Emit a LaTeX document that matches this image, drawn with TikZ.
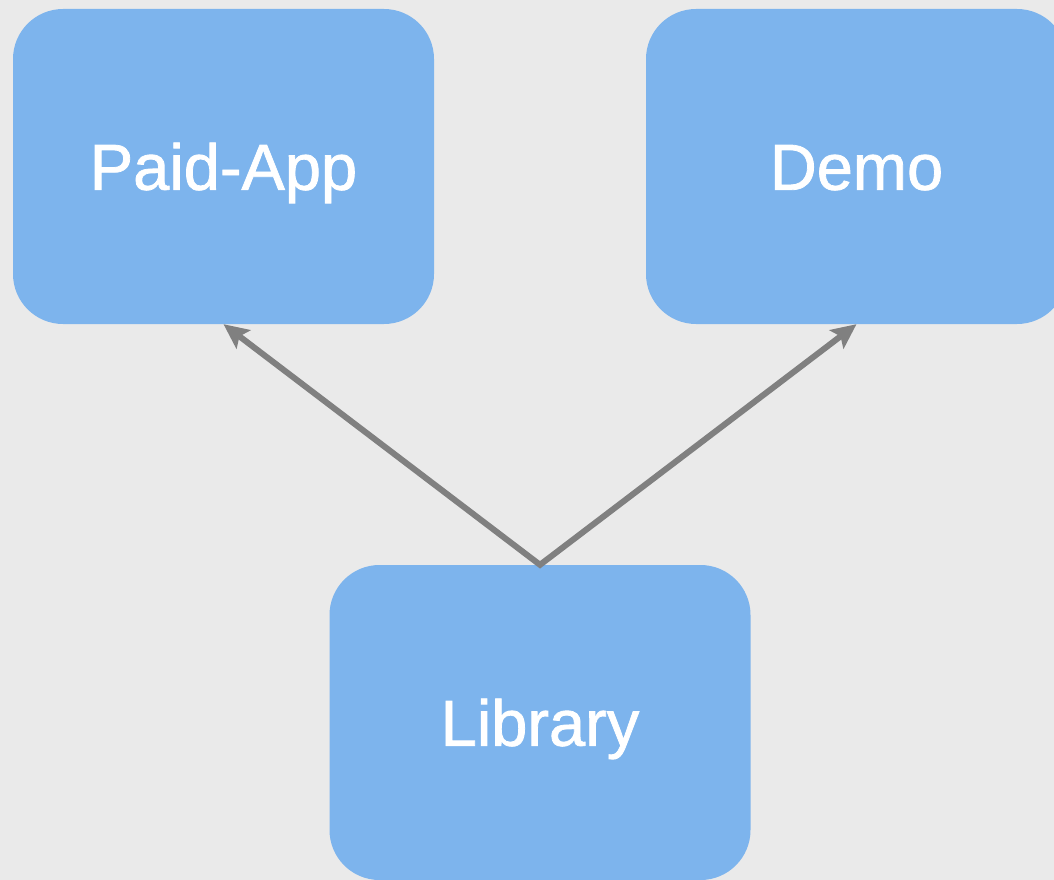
\documentclass[tikz,border=0pt]{standalone}
\usepackage{fontspec}
\setmainfont{Liberation Sans}[FakeBold=1.2]
\usetikzlibrary{arrows.meta}
\definecolor{bg}{HTML}{EAEAEA}
\definecolor{boxblue}{HTML}{7DB4ED}
\definecolor{arrowgray}{HTML}{808080}
\tikzset{
  module/.style={fill=boxblue, rounded corners=50pt, minimum width=421pt, minimum height=315pt,
    inner sep=0pt, text=white, font=\fontsize{65}{65}\selectfont,
    text height=46.5pt, text depth=0pt},
  dep/.style={draw=arrowgray, line width=6pt,
    {Stealth[length=25pt,width=23pt,inset=5pt]}-{Stealth[length=25pt,width=23pt,inset=5pt]}}
}
\begin{document}
\begin{tikzpicture}[x=1pt,y=-1pt]
\fill[bg] (0,0) rectangle (1054,880);
\useasboundingbox (0,0) rectangle (1054,880);
\node[module] (paid) at (223.5,166.5) {Paid-App};
\node[module] (demo) at (856.5,166.5) {Demo};
\node[module] (lib) at (540,722.5) {Library};
\draw[dep] (paid.south) -- (lib.north) -- (demo.south);
\end{tikzpicture}
\end{document}
